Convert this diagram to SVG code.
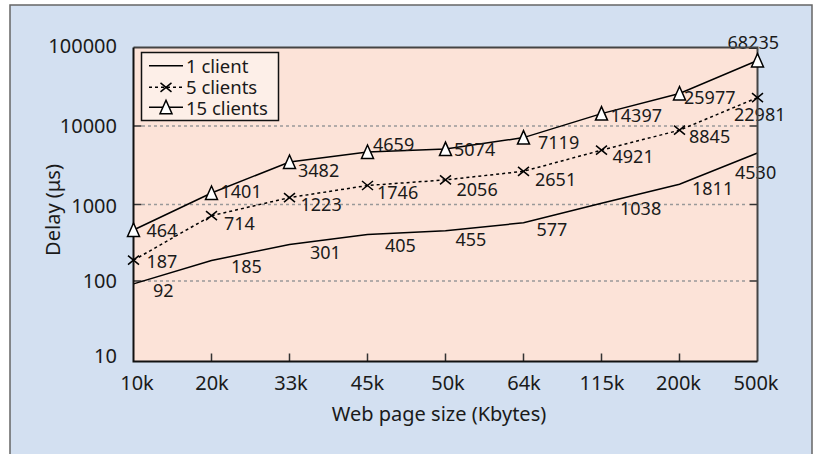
<svg xmlns="http://www.w3.org/2000/svg" width="817" height="454" viewBox="0 0 817 454">
<style>
text{font-family:"Noto Sans","Open Sans","Liberation Sans",sans-serif;fill:#1a1a1a}
.ytick{font-size:20px;text-anchor:end}
.xtick{font-size:20px;text-anchor:middle}
.lbl{font-size:18px}
.leg{font-size:18.5px}
.grid{stroke:#999;stroke-width:1.5;stroke-dasharray:3 3;fill:none}
.tk{stroke:#333;stroke-width:1.5;fill:none}
.s1{stroke:#000;stroke-width:1.5;fill:none}
.s5{stroke:#000;stroke-width:1.5;fill:none;stroke-dasharray:3 3}
.tri{fill:#fff;stroke:#000;stroke-width:1.5;stroke-linejoin:miter}
.xm{stroke:#000;stroke-width:1.5;fill:none}
</style>
<defs>
<path id="tri" class="tri" d="M0,-7 L6,6.5 L-6,6.5 Z"/>
<path id="xm" class="xm" d="M-5.5,-4.5 L5.5,4.5 M-5.5,4.5 L5.5,-4.5"/>
</defs>
<g id="background">
<rect x="10" y="5" width="802" height="470" fill="#d3e0f1" stroke="#666" stroke-width="1.5"/>
<rect x="133.5" y="47.5" width="624" height="314" fill="#fce3d8"/>
</g>
<g id="grid">
<line class="grid" x1="142" y1="281" x2="748" y2="281"/>
<line class="grid" x1="142" y1="204.5" x2="748" y2="204.5"/>
<line class="grid" x1="142" y1="126" x2="748" y2="126"/>
<path class="tk" d="M133.5,281h8M133.5,204.5h8M133.5,126h8M749.5,281h8M749.5,204.5h8M749.5,126h8"/>
<path class="tk" d="M211.5,353.5v8M289.5,353.5v8M367.5,353.5v8M445.5,353.5v8M523.5,353.5v8M601.5,353.5v8M679.5,353.5v8"/>
</g>
<g id="axis-text">
<text class="ytick" x="117" y="52.5">100000</text>
<text class="ytick" x="117" y="132.5">10000</text>
<text class="ytick" x="117" y="212.5">1000</text>
<text class="ytick" x="117" y="288">100</text>
<text class="ytick" x="117" y="363">10</text>
<text class="xtick" x="137" y="390">10k</text>
<text class="xtick" x="212" y="390">20k</text>
<text class="xtick" x="291" y="390">33k</text>
<text class="xtick" x="367.5" y="390">45k</text>
<text class="xtick" x="448" y="390">50k</text>
<text class="xtick" x="524" y="390">64k</text>
<text class="xtick" x="602" y="390">115k</text>
<text class="xtick" x="678.5" y="390">200k</text>
<text class="xtick" x="756" y="390">500k</text>
<text x="439" y="421" font-size="20" text-anchor="middle">Web page size (Kbytes)</text>
<text transform="translate(60,210) rotate(-90)" font-size="20" text-anchor="middle">Delay (μs)</text>
</g>
<g id="connectors">
<polyline id="series-1-client" class="s1" points="133.5,283.9 211.5,260.6 289.5,244.4 367.5,234.5 445.5,230.7 523.5,222.8 601.5,203.2 679.5,184.3 757.5,153"/>
<polyline id="series-5-clients" class="s5" points="133.5,260.2 211.5,215.7 289.5,197.6 367.5,185.5 445.5,179.9 523.5,171.3 601.5,150.2 679.5,130.2 757.5,97.6"/>
<polyline id="series-15-clients" class="s1" points="133.5,230 211.5,193 289.5,162 367.5,152 445.5,149.1 523.5,137.6 601.5,113.6 679.5,93.5 757.5,60.5"/>
</g>
<g id="labels-1">
<text class="lbl" x="153" y="297">92</text>
<text class="lbl" x="231" y="273">185</text>
<text class="lbl" x="310" y="259">301</text>
<text class="lbl" x="385" y="251.5">405</text>
<text class="lbl" x="455.5" y="246">455</text>
<text class="lbl" x="536.5" y="236">577</text>
<text class="lbl" x="620" y="215">1038</text>
<text class="lbl" x="692" y="195">1811</text>
<text class="lbl" x="735" y="179">4530</text>
</g>
<g id="labels-5">
<text class="lbl" x="146.5" y="268">187</text>
<text class="lbl" x="224" y="230">714</text>
<text class="lbl" x="300.5" y="210.5">1223</text>
<text class="lbl" x="377" y="199">1746</text>
<text class="lbl" x="456.5" y="195.5">2056</text>
<text class="lbl" x="535" y="185.5">2651</text>
<text class="lbl" x="612.5" y="163">4921</text>
<text class="lbl" x="689" y="142.5">8845</text>
<text class="lbl" x="734" y="121">22981</text>
</g>
<g id="labels-15">
<text class="lbl" x="146.5" y="237">464</text>
<text class="lbl" x="220.5" y="198">1401</text>
<text class="lbl" x="298" y="177">3482</text>
<text class="lbl" x="373" y="150.5">4659</text>
<text class="lbl" x="454" y="156">5074</text>
<text class="lbl" x="538" y="149">7119</text>
<text class="lbl" x="610.5" y="122">14397</text>
<text class="lbl" x="684" y="104">25977</text>
<text class="lbl" x="727.5" y="49">68235</text>
</g>
<g id="axes">
<path d="M133.5,47.5 H757.5 V361.5" fill="none" stroke="#444" stroke-width="2"/>
<path d="M133.5,47.5 V361.5 H757.5" fill="none" stroke="#111" stroke-width="2"/>
</g>
<g id="markers-5">
<use href="#xm" x="133.5" y="260.2"/>
<use href="#xm" x="211.5" y="215.7"/>
<use href="#xm" x="289.5" y="197.6"/>
<use href="#xm" x="367.5" y="185.5"/>
<use href="#xm" x="445.5" y="179.9"/>
<use href="#xm" x="523.5" y="171.3"/>
<use href="#xm" x="601.5" y="150.2"/>
<use href="#xm" x="679.5" y="130.2"/>
<use href="#xm" x="757.5" y="97.6"/>
</g>
<g id="markers-15">
<use href="#tri" x="133.5" y="230"/>
<use href="#tri" x="211.5" y="193"/>
<use href="#tri" x="289.5" y="162"/>
<use href="#tri" x="367.5" y="152"/>
<use href="#tri" x="445.5" y="149.1"/>
<use href="#tri" x="523.5" y="137.6"/>
<use href="#tri" x="601.5" y="113.6"/>
<use href="#tri" x="679.5" y="93.5"/>
<use href="#tri" x="757.5" y="60.5"/>
</g>
<g id="legend">
<rect x="141.5" y="52.5" width="137" height="68" fill="#fdefe8" stroke="#111" stroke-width="1.5"/>
<line class="s1" x1="149" y1="65.7" x2="183" y2="65.7"/>
<text class="leg" x="186" y="72.5">1 client</text>
<line class="s5" x1="149" y1="87.3" x2="183" y2="87.3"/>
<use href="#xm" x="166" y="87.3"/>
<text class="leg" x="186" y="94">5 clients</text>
<line class="s1" x1="149" y1="107.3" x2="183" y2="107.3"/>
<use href="#tri" x="166" y="107.3"/>
<text class="leg" x="186" y="114.5">15 clients</text>
</g>
</svg>
